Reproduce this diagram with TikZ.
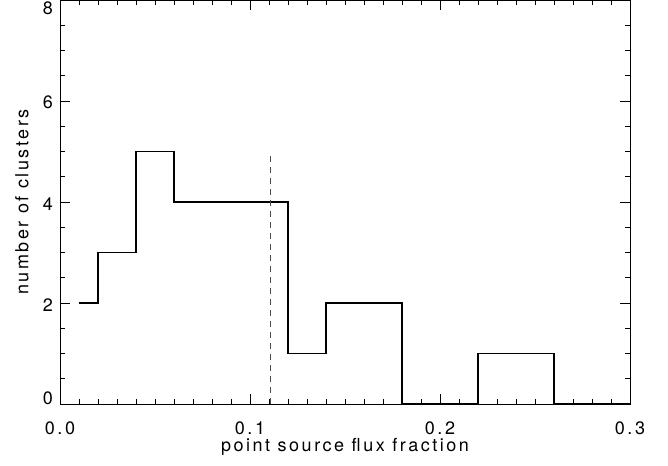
\documentclass[tikz,border=0pt]{standalone}
\usepackage{fontspec}
\setmainfont[LetterSpace=14]{TeX Gyre Heros}

\tikzset{
  axis/.style={line width=0.8pt,black},
  hist/.style={line width=1.4pt,black,line join=miter},
  cutline/.style={line width=0.9pt,black!70,dash pattern=on 6pt off 5pt},
  ticklabel/.style={font=\fontsize{18}{20}\selectfont,inner sep=0pt},
}

\begin{document}
\begin{tikzpicture}[x=1900pt,y=50.5pt]
    \useasboundingbox (-60pt,-61pt) rectangle (608pt,404pt);
    % minor and major ticks
    \foreach \i in {1,...,29} {
      \draw[axis] (\i/100,0) -- ++(0,5pt);
      \draw[axis] (\i/100,8) -- ++(0,-5pt);
    }
    \foreach \v in {0.1,0.2} {
      \draw[axis] (\v,0) -- ++(0,10pt);
      \draw[axis] (\v,8) -- ++(0,-10pt);
    }
    \foreach \j in {1,...,15} {
      \draw[axis] (0,\j/2) -- ++(5pt,0);
      \draw[axis] (0.3,\j/2) -- ++(-5pt,0);
    }
    \foreach \v in {2,4,6} {
      \draw[axis] (0,\v) -- ++(10pt,0);
      \draw[axis] (0.3,\v) -- ++(-10pt,0);
    }
    \draw[axis] (0,0) rectangle (0.3,8);
    % histogram
    \draw[hist] (0.01,2) -| (0.02,3) -| (0.04,5) -| (0.06,4) -| (0.12,1)
                -| (0.14,2) -| (0.18,0) -| (0.22,1) -| (0.26,0) -- (0.30,0);
    % cut
    \coordinate (cutbase) at (0.1105,0);
    \coordinate (cuttop)  at (0.1105,5);
    \draw[cutline] (cutbase) -- (cuttop);
    % labels
    \node (xlab0) at (0.0,-24pt) [ticklabel] {0.0};
    \node (xlab1) at (0.1,-24pt) [ticklabel] {0.1};
    \node (xlab2) at (0.2,-24pt) [ticklabel] {0.2};
    \node (xlab3) at (0.3,-24pt) [ticklabel] {0.3};
    \node (ylab0) at (-7pt,6pt)   [ticklabel,anchor=east] {0};
    \node (ylab2) at (-7pt,99pt)  [ticklabel,anchor=east] {2};
    \node (ylab4) at (-7pt,200pt) [ticklabel,anchor=east] {4};
    \node (ylab6) at (-7pt,302pt) [ticklabel,anchor=east] {6};
    \node (ylab8) at (-7pt,396pt) [ticklabel,anchor=east] {8};
    \node (xtitle) at (0.15,-43pt) [ticklabel] {point source flux fraction};
    \node (ytitle) at (-38pt,4) [ticklabel,rotate=90] {number of clusters};
\end{tikzpicture}
\end{document}
